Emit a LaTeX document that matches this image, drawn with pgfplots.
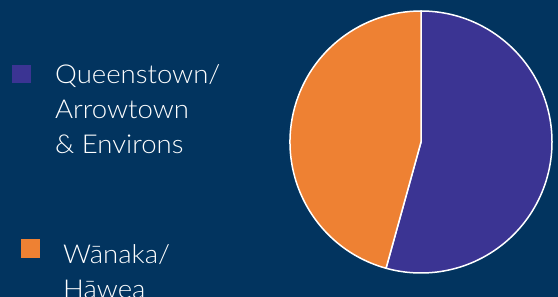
\documentclass[border=0pt]{standalone}
\usepackage{fontspec}
\setmainfont{Lato Light}[FakeStretch=1.06]
\usepackage{pgfplots}
\usepackage{pgfplotstable}
\pgfplotsset{compat=1.18}
\definecolor{bg}{HTML}{02345F}
\definecolor{qblue}{HTML}{3B3493}
\definecolor{worange}{HTML}{EE8133}
\pgfplotstableread{
share
54.3
45.7
}\piedata
\begin{document}
\begin{tikzpicture}
\fill[bg] (0,0) rectangle (558bp,297bp);
\path[use as bounding box] (0,0) rectangle (558bp,297bp);
\pgfplotstablegetelem{0}{share}\of\piedata \let\valA\pgfplotsretval
\pgfplotstablegetelem{1}{share}\of\piedata \let\valB\pgfplotsretval
\pgfmathsetmacro\angA{90-3.6*\valA}
\pgfmathsetmacro\angB{\angA-3.6*\valB}
\begin{axis}[hide axis, x=131bp, y=131bp, xmin=-1, xmax=1, ymin=-1, ymax=1,
  clip=false, anchor=origin, at={(421bp,155bp)}]
\filldraw[fill=qblue, draw=white, line width=1.5bp, line join=round]
  (axis cs:0,0) -- (axis cs:0,1) arc[start angle=90, end angle=\angA, radius=131bp] -- cycle;
\filldraw[fill=worange, draw=white, line width=1.5bp, line join=round]
  (axis cs:0,0) -- ({cos(\angA)},{sin(\angA)}) arc[start angle=\angA, end angle=\angB, radius=131bp] -- cycle;
\end{axis}
\begin{scope}[every node/.style={anchor=base west, text=white, inner sep=0pt,
  font=\fontsize{26bp}{30bp}\selectfont}]
\fill[qblue] (12bp,214bp) rectangle (31bp,232bp);
\node at (55bp,213bp) {Queenstown/};
\node at (55bp,178bp) {Arrowtown};
\node at (55bp,143bp) {\&{} Environs};
\fill[worange] (21bp,39bp) rectangle (40bp,58bp);
\node at (63bp,34bp) {Wānaka/};
\node at (63bp,-1bp) {Hāwea};
\end{scope}
\end{tikzpicture}
\end{document}
